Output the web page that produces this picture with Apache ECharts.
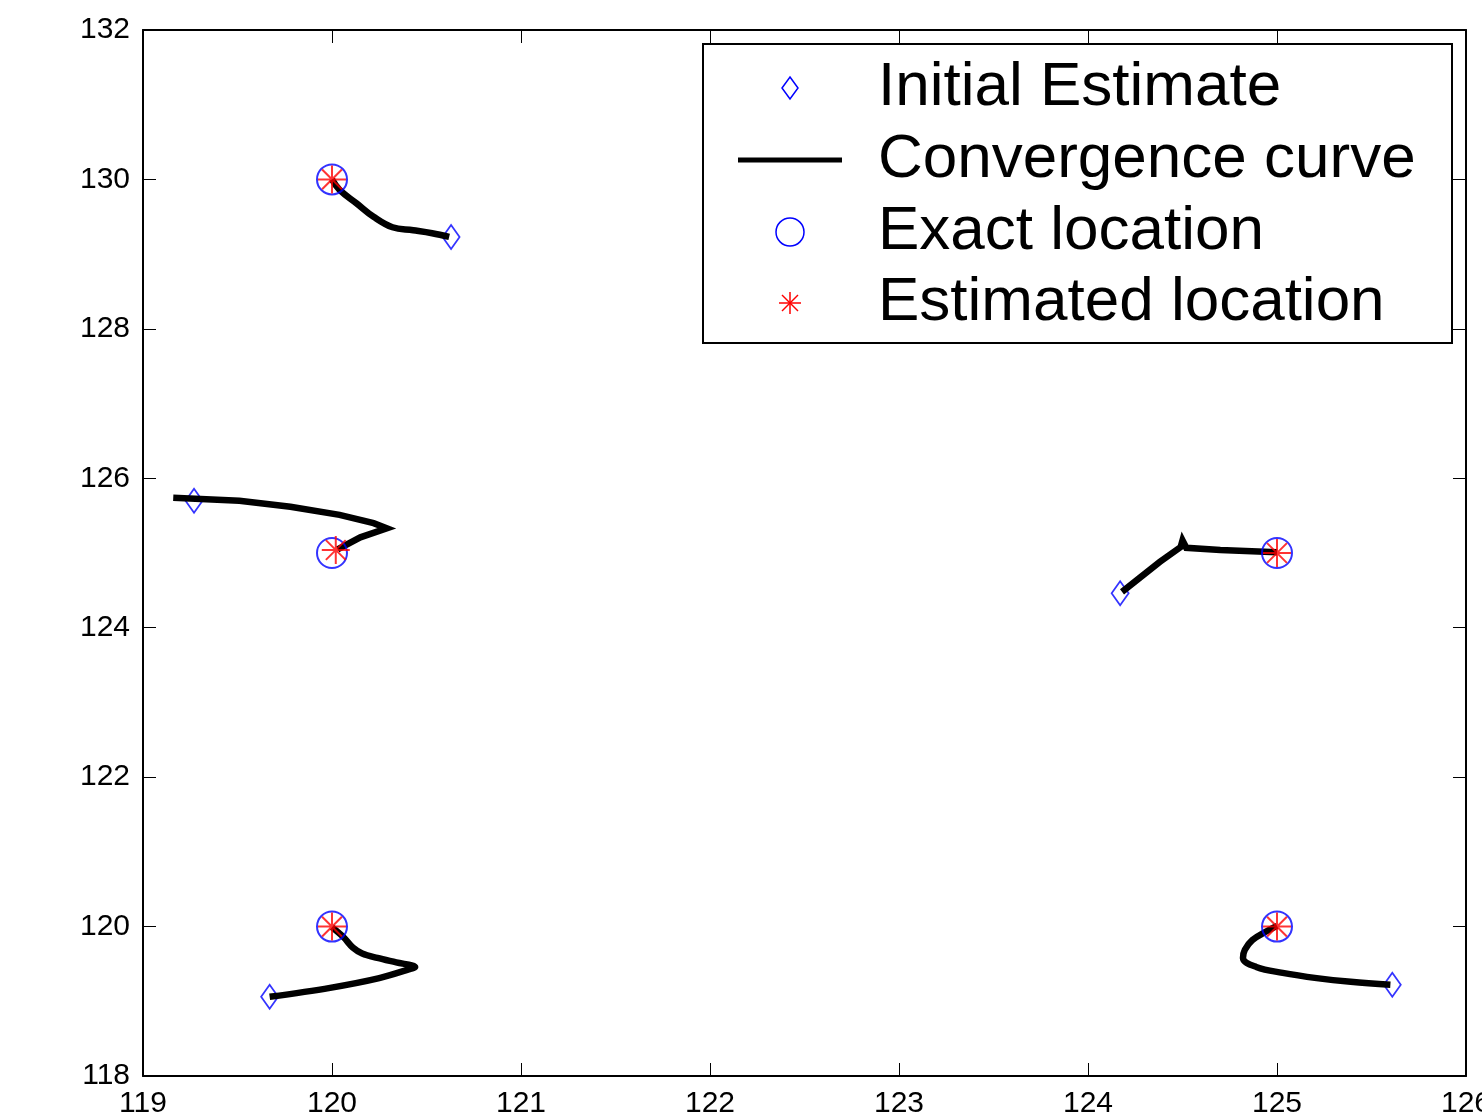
<!DOCTYPE html>
<html lang="en">
<head>
    <meta charset="UTF-8">
    <title>Convergence</title>
    <style>
        html, body { margin: 0; padding: 0; background: #fff; }
        #main { width: 1482px; height: 1119px; }
    </style>
</head>
<body>
    <div id="main"></div>
    <script src="https://cdn.jsdelivr.net/npm/echarts@6/dist/echarts.min.js"></script>
    <script>
        // axis ticks
        var xTicks = [119, 120, 121, 122, 123, 124, 125, 126];
        var yTicks = [118, 120, 122, 124, 126, 128, 130, 132];

        // starting guesses
        var initialEstimate = [[120.63, 129.23], [119.27, 125.70], [119.67, 119.06], [124.17, 124.46], [125.61, 119.22]];
        // true source positions
        var exactLocation = [[120, 130], [120, 125], [120, 120], [125, 125], [125, 120]];
        // where the iteration ended
        var estimatedLocation = [[120, 130], [120.02, 125.04], [120, 120], [125, 125], [125, 120]];

        // convergence paths, one per source
        var curve1 = [[120.62, 129.23], [120.53, 129.28], [120.43, 129.32], [120.32, 129.36], [120.22, 129.50], [120.13, 129.68], [120.04, 129.86], [120, 130]];
        var curve2 = [[119.16, 125.74], [119.51, 125.70], [119.78, 125.62], [120.04, 125.51], [120.22, 125.40], [120.29, 125.33], [120.15, 125.21], [120.03, 125.05]];
        var curve3 = [[119.67, 119.06], [119.99, 119.18], [120.25, 119.31], [120.41, 119.43], [120.44, 119.46], [120.34, 119.52], [120.24, 119.58], [120.16, 119.64], [120.11, 119.72], [120.06, 119.86], [120.0, 119.99]];
        var curve4 = [[124.18, 124.48], [124.28, 124.68], [124.38, 124.88], [124.49, 125.08], [124.50, 125.17], [124.52, 125.07], [124.70, 125.04], [125.0, 125.01]];
        var curve5 = [[125.60, 119.22], [125.39, 119.26], [125.21, 119.31], [125.03, 119.38], [124.89, 119.46], [124.82, 119.58], [124.83, 119.69], [124.87, 119.82], [124.94, 119.93], [125.0, 120.01]];
        var curves = [curve1, curve2, curve3, curve4, curve5];
        var curveSmooth = [0.4, 0, 0.35, 0, 0.4];

        var starPath = 'path://M0,-10L0,10M-10,0L10,0M-7.07,-7.07L7.07,7.07M-7.07,7.07L7.07,-7.07';

        var chart = echarts.init(document.getElementById('main'));

        var font = 'Liberation Sans, Arial, Helvetica, sans-serif';

        function xAxisOf(pos, show) {
            return {
                type: 'value', position: pos, min: 119, max: 126, interval: 1,
                axisLine: { show: true, onZero: false, lineStyle: { color: '#000', width: 2 } },
                axisTick: { show: true, inside: true, length: 13, lineStyle: { color: '#000', width: 1 } },
                axisLabel: { show: show, color: '#000', fontSize: 30, fontFamily: font, margin: 13, showMaxLabel: true, showMinLabel: true },
                splitLine: { show: false }
            };
        }
        function yAxisOf(pos, show) {
            return {
                type: 'value', position: pos, min: 118, max: 132, interval: 2,
                axisLine: { show: true, onZero: false, lineStyle: { color: '#000', width: 2 } },
                axisTick: { show: true, inside: true, length: 13, lineStyle: { color: '#000', width: 1 } },
                axisLabel: { show: show, color: '#000', fontSize: 30, fontFamily: font, margin: 13 },
                splitLine: { show: false }
            };
        }

        var series = [{
            name: 'Initial Estimate', type: 'scatter', data: initialEstimate,
            symbol: 'diamond', symbolSize: [17, 24], z: 2,
            itemStyle: { color: 'rgba(0,0,0,0)', borderColor: '#0000ff', borderWidth: 1.8 }
        }];
        curves.forEach(function (c, i) {
            series.push({
                name: 'Convergence curve', type: 'line', data: c, showSymbol: false, symbol: 'none',
                smooth: curveSmooth[i],
                z: 3, lineStyle: { color: '#000', width: 6.5, cap: 'butt', join: 'miter' }
            });
        });
        series.push({
            name: 'Exact location', type: 'scatter', data: exactLocation,
            symbol: 'circle', symbolSize: 30, z: 4,
            itemStyle: { color: 'rgba(0,0,0,0)', borderColor: '#0000ff', borderWidth: 2 }
        });
        series.push({
            name: 'Estimated location', type: 'scatter', data: estimatedLocation,
            symbol: starPath, symbolSize: 28, z: 5,
            itemStyle: { color: 'rgba(0,0,0,0)', borderColor: '#ff0000', borderWidth: 2 }
        });

        // hand drawn legend box, like the matlab one
        var lx = 790, tx = 878, rows = [88, 160, 232, 303];
        var legendNames = ['Initial Estimate', 'Convergence curve', 'Exact location', 'Estimated location'];
        var graphic = [{
            type: 'rect', shape: { x: 703, y: 44, width: 749, height: 299 }, z: 10,
            style: { fill: '#fff', stroke: '#000', lineWidth: 2 }
        }, {
            type: 'polygon', z: 11, shape: { points: [[lx, rows[0] - 11], [lx + 8, rows[0]], [lx, rows[0] + 11], [lx - 8, rows[0]]] },
            style: { fill: 'none', stroke: '#0000ff', lineWidth: 1.5 }
        }, {
            type: 'line', z: 11, shape: { x1: 738, y1: rows[1], x2: 842, y2: rows[1] },
            style: { stroke: '#000', lineWidth: 5 }
        }, {
            type: 'circle', z: 11, shape: { cx: lx, cy: rows[2], r: 14 },
            style: { fill: 'none', stroke: '#0000ff', lineWidth: 1.5 }
        }];
        // little red asterisk in the legend
        [[0, -11, 0, 11], [-11, 0, 11, 0], [-8, -8, 8, 8], [-8, 8, 8, -8]].forEach(function (s) {
            graphic.push({
                type: 'line', z: 11,
                shape: { x1: lx + s[0], y1: rows[3] + s[1], x2: lx + s[2], y2: rows[3] + s[3] },
                style: { stroke: '#ff0000', lineWidth: 1.5 }
            });
        });
        legendNames.forEach(function (n, i) {
            graphic.push({
                type: 'text', z: 11, x: tx, y: rows[i],
                style: { text: n, fill: '#000', fontSize: 62, fontFamily: font, verticalAlign: 'middle', align: 'left' }
            });
        });

        var option = {
            animation: false,
            backgroundColor: '#fff',
            grid: { left: 143, right: 16, top: 30, bottom: 43, containLabel: false, outerBoundsMode: 'none' },
            xAxis: [xAxisOf('bottom', true), xAxisOf('top', false)],
            yAxis: [yAxisOf('left', true), yAxisOf('right', false)],
            series: series,
            graphic: graphic
        };
        chart.setOption(option);
    </script>
</body>
</html>
